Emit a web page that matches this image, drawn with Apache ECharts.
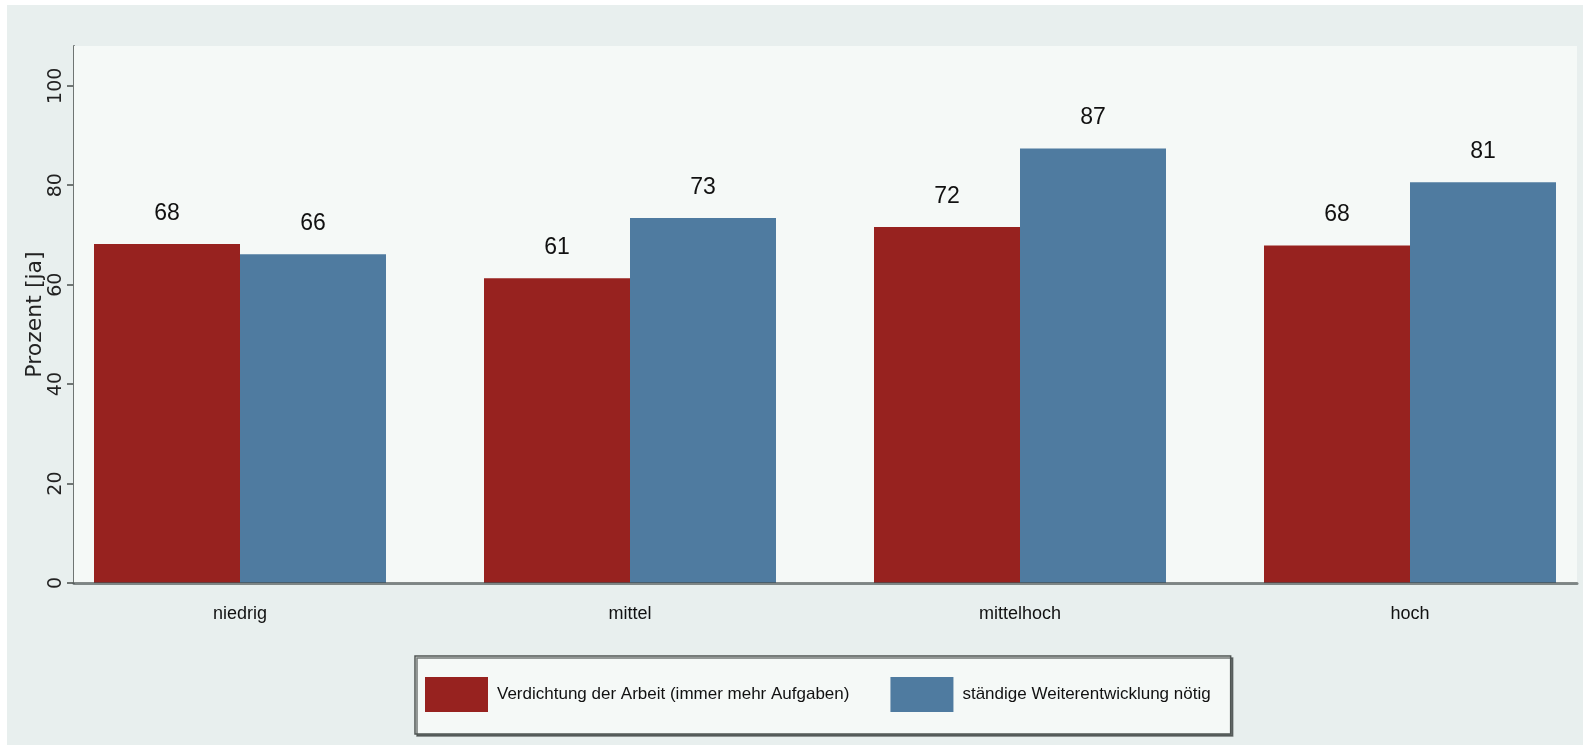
<!DOCTYPE html>
<html>
<head>
<meta charset="utf-8">
<script src="https://cdn.jsdelivr.net/npm/echarts@6/dist/echarts.min.js"></script>
<style>
  html, body { margin: 0; padding: 0; background: #ffffff; }
  #chart { width: 1583px; height: 745px; }
</style>
</head>
<body>
<div id="chart"></div>
<script>
// Kategorien und Werte
const categories = ['niedrig', 'mittel', 'mittelhoch', 'hoch'];
const seriesNames = ['Verdichtung der Arbeit (immer mehr Aufgaben)', 'ständige Weiterentwicklung nötig'];
const verdichtung = [68.2, 61.3, 71.6, 67.9];
const weiterentwicklung = [66.1, 73.4, 87.4, 80.6];
const yTicks = [0, 20, 40, 60, 80, 100];

const narrow = '"Liberation Sans Narrow", "Liberation Sans", Arial, sans-serif';
const wide = '"DejaVu Sans", sans-serif';

const chart = echarts.init(document.getElementById('chart'));

const barLabel = {
  show: true,
  position: 'top',
  distance: 19,
  fontFamily: narrow,
  fontSize: 23,
  color: '#111',
  formatter: p => Math.round(p.value)
};

const option = {
  backgroundColor: '#ffffff',
  animation: false,
  grid: [
    // Rahmen mit Achsen und Gitterlinien
    { left: 74, top: 46, right: 6, bottom: 162, show: true, backgroundColor: '#f5f9f7', borderWidth: 0, outerBoundsMode: 'none', z: 1 },
    // Balken
    { left: 45, top: 46, width: 1560, bottom: 162, outerBoundsMode: 'none' },
    // grauer Hintergrund der ganzen Grafik
    { left: 7, top: 5, right: 0, bottom: 0, show: true, backgroundColor: '#e8efee', borderWidth: 0, outerBoundsMode: 'none', z: 0 }
  ],
  xAxis: [
    {
      gridIndex: 0, type: 'value', min: 0, max: 1, z: 5,
      axisLine: { show: true, lineStyle: { color: 'rgba(70,78,78,0.65)', width: 3 } },
      axisTick: { show: false }, axisLabel: { show: false }, splitLine: { show: false }
    },
    {
      gridIndex: 1, type: 'category', data: categories,
      axisLine: { show: false }, axisTick: { show: false },
      axisLabel: { margin: 22, fontFamily: narrow, fontSize: 18, color: '#111' }
    },
    { gridIndex: 2, type: 'value', show: false }
  ],
  yAxis: [
    {
      gridIndex: 0, type: 'value', min: 0, max: 108, interval: 20,
      name: 'Prozent [ja]', nameLocation: 'middle', nameGap: 28, nameMoveOverlap: false,
      nameTextStyle: { fontFamily: wide, fontSize: 22, color: '#222' },
      axisLine: { show: true, lineStyle: { color: '#6f7573', width: 2 } },
      axisTick: { show: true, length: 7, lineStyle: { color: '#6f7573', width: 2 } },
      axisLabel: {
        rotate: 90, margin: 8, fontFamily: wide, fontSize: 19, color: '#222',
        showMaxLabel: false,
        formatter: v => (yTicks.indexOf(v) >= 0 ? String(v) : '')
      },
      splitLine: { show: true, showMaxLine: false, lineStyle: { color: '#e3eaea', width: 2 } }
    },
    { gridIndex: 1, type: 'value', min: 0, max: 108, show: false },
    { gridIndex: 2, type: 'value', show: false }
  ],
  legend: {
    left: 415, top: 656,
    padding: [21, 20, 22, 10],
    itemGap: 41, itemWidth: 63, itemHeight: 35,
    icon: 'rect',
    backgroundColor: '#f5f9f7',
    borderColor: '#4f5553', borderWidth: 1.5,
    shadowColor: 'rgba(60,66,64,0.7)', shadowOffsetX: 2, shadowOffsetY: 2, shadowBlur: 0,
    textStyle: { fontFamily: narrow, fontSize: 17, color: '#111', padding: [0, 0, 0, 4] },
    data: seriesNames
  },
  series: [
    {
      name: seriesNames[0], type: 'bar', xAxisIndex: 1, yAxisIndex: 1,
      data: verdichtung, barWidth: 146, barGap: '0%',
      itemStyle: { color: '#97221f' }, label: barLabel
    },
    {
      name: seriesNames[1], type: 'bar', xAxisIndex: 1, yAxisIndex: 1,
      data: weiterentwicklung, barWidth: 146, barGap: '0%',
      itemStyle: { color: '#4f7ba0' }, label: barLabel
    }
  ]
};

chart.setOption(option);
</script>
</body>
</html>
